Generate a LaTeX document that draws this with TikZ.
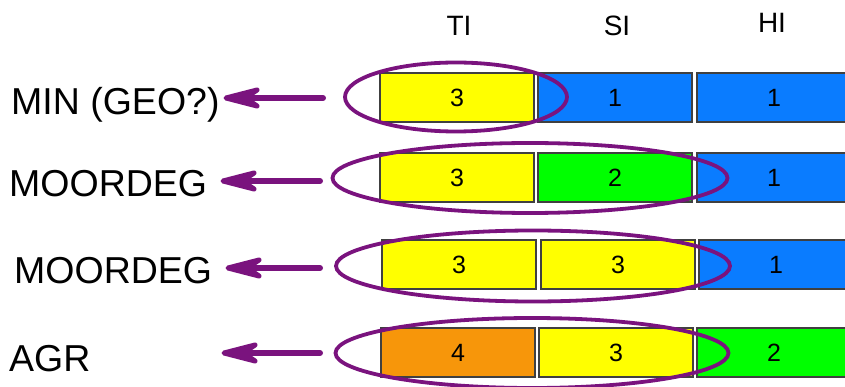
\documentclass[tikz,border=0pt]{standalone}
\usepackage{fontspec}
\setmainfont{Liberation Sans}
\usetikzlibrary{shapes.geometric}
\definecolor{cYel}{HTML}{FFFF00}
\definecolor{cBlue}{HTML}{0A7CFF}
\definecolor{cGreen}{HTML}{00FF00}
\definecolor{cOrange}{HTML}{F7960A}
\definecolor{cPurple}{HTML}{7A137E}
\definecolor{cEdge}{HTML}{404040}
\tikzset{
  cell/.style={draw=cEdge, line width=1.2pt, minimum width=154pt, minimum height=49pt,
    inner sep=0pt, font=\fontsize{25}{25}\selectfont},
  ring/.style={ellipse, draw=cPurple, line width=3.8pt, inner sep=0pt},
  rowlabel/.style={anchor=base west, inner sep=0pt, font=\fontsize{37.5}{37.5}\selectfont},
  colhead/.style={anchor=base, inner sep=0pt, font=\fontsize{28}{28}\selectfont},
  shaft/.style={draw=cPurple, line width=6pt, line cap=round, shorten >=10pt},
  barbhead/.style={draw=cPurple, fill=cPurple, line width=5pt, line join=round}
}
\begin{document}
\begin{tikzpicture}[x=1pt,y=1pt]
\useasboundingbox (0,0) rectangle (845,-387);
\clip (0,0) rectangle (845,-387);

% column headings
\node[colhead] (hTI) at (459,-36) {TI};
\node[colhead] (hSI) at (617,-36) {SI};
\node[colhead] (hHI) at (772,-33) {HI};

% row 1
\node[cell, fill=cYel]  (r1a) at (457,-97.5) {3};
\node[cell, fill=cBlue] (r1b) at (615,-97.5) {1};
\node[cell, fill=cBlue] (r1c) at (774,-97.5) {1};
% row 2
\node[cell, fill=cYel]   (r2a) at (457,-177.5) {3};
\node[cell, fill=cGreen] (r2b) at (615,-177.5) {2};
\node[cell, fill=cBlue]  (r2c) at (774,-177.5) {1};
% row 3
\node[cell, fill=cYel]  (r3a) at (459,-264.5) {3};
\node[cell, fill=cYel]  (r3b) at (618,-264.5) {3};
\node[cell, fill=cBlue] (r3c) at (776,-264.5) {1};
% row 4
\node[cell, fill=cOrange] (r4a) at (458,-352.5) {4};
\node[cell, fill=cYel]    (r4b) at (616,-352.5) {3};
\node[cell, fill=cGreen]  (r4c) at (774,-352.5) {2};

% groupings
\node[ring, minimum width=222pt, minimum height=69pt] (e1) at (456,-97) {};
\node[ring, minimum width=395pt, minimum height=70pt] (e2) at (530,-178) {};
\node[ring, minimum width=394pt, minimum height=71pt] (e3) at (533,-266) {};
\node[ring, minimum width=393pt, minimum height=70pt] (e4) at (532,-353) {};

% row labels
\node[rowlabel] (l1) at (11,-115) {MIN (GEO?)};
\node[rowlabel] (l2) at (9,-197) {MOORDEG};
\node[rowlabel] (l3) at (14,-283) {MOORDEG};
\node[rowlabel] (l4) at (9,-371) {AGR};

% pointers from each grouping to its label
\coordinate (s1) at (323,-98);
\coordinate (t1) at (226,-98);
\coordinate (s2) at (320,-181);
\coordinate (t2) at (223,-181);
\coordinate (s3) at (320,-268);
\coordinate (t3) at (228,-268);
\coordinate (s4) at (320,-353);
\coordinate (t4) at (224,-353);
\foreach \i in {1,2,3,4}{
  \draw[shaft] (s\i) -- (t\i);
  \filldraw[barbhead] (t\i) -- ++(31,8) -- ++(-12,-8) -- ++(12,-8) -- cycle;
}
\end{tikzpicture}
\end{document}
